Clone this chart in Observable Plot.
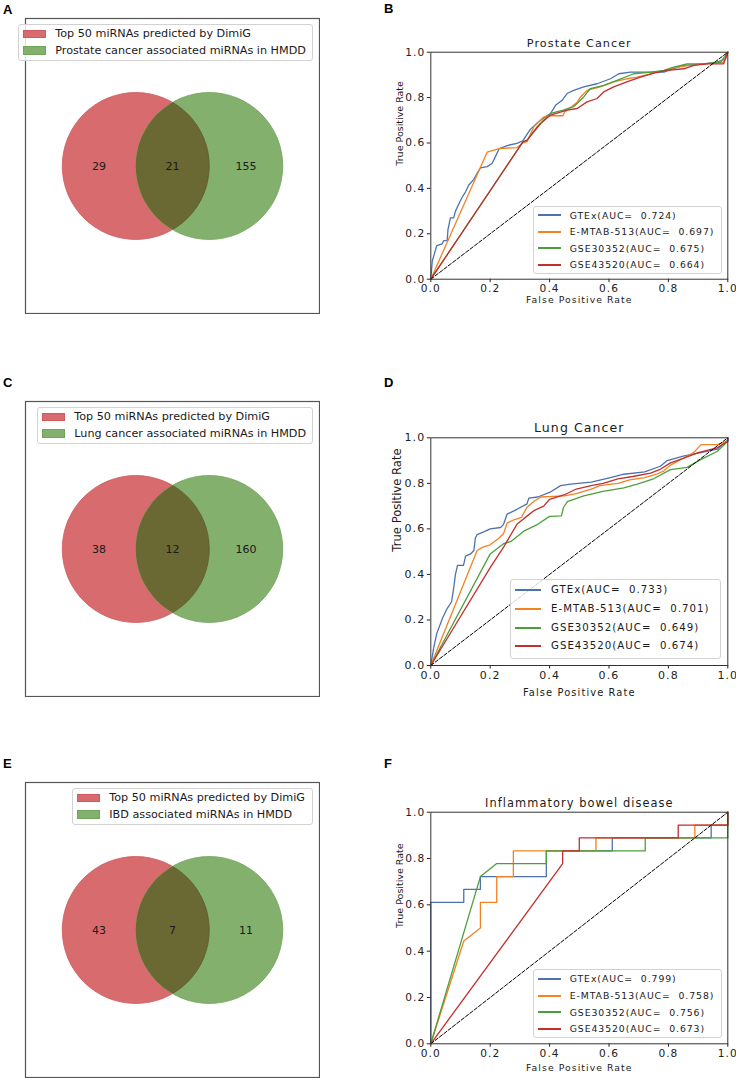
<!DOCTYPE html>
<html>
<head>
<meta charset="utf-8">
<script src="https://cdn.jsdelivr.net/npm/d3@7"></script>
<script src="https://cdn.jsdelivr.net/npm/@observablehq/plot@0.6"></script>
<style>
html,body{margin:0;padding:0;background:#fff;}
#fig{position:relative;width:736px;height:1078px;overflow:hidden;background:#fff;font-family:"DejaVu Sans",sans-serif;color:#1a1a1a;}
#fig svg{position:absolute;max-width:none;}
.plabel{position:absolute;font-family:"Liberation Sans",Arial,sans-serif;font-weight:bold;font-size:13px;line-height:13px;color:#000;}
.leg{position:absolute;box-sizing:border-box;background:rgba(255,255,255,0.8);border:1px solid #d2d2d2;border-radius:3px;}
.leg .sw{position:absolute;box-sizing:border-box;}
.leg .tx{position:absolute;white-space:pre;color:#1a1a1a;}
</style>
</head>
<body>
<div id="fig"></div>
<script>
// ---------------- data ----------------
const panelLetters = ["A", "B", "C", "D", "E", "F"];
const predictedLabel = "Top 50 miRNAs predicted by DimiG";
const hmddLabels = [
  "Prostate cancer associated miRNAs in HMDD",
  "Lung cancer associated miRNAs in HMDD",
  "IBD associated miRNAs in HMDD"
];
const onlyPredicted = [29, 38, 43];
const sharedCounts = [21, 12, 7];
const onlyHmdd = [155, 160, 11];

const rocTitles = ["Prostate Cancer", "Lung Cancer", "Inflammatory bowel disease"];
const datasets = ["GTEx", "E-MTAB-513", "GSE30352", "GSE43520"];
const aucProstate = [0.724, 0.697, 0.675, 0.664];
const aucLung = [0.733, 0.701, 0.649, 0.674];
const aucIBD = [0.799, 0.758, 0.756, 0.673];
const axisTicks = [0, 0.2, 0.4, 0.6, 0.8, 1.0];
const chance = [0, 1];
const xAxisLabel = "False Positive Rate";
const yAxisLabel = "True Positive Rate";

// ROC curves: [false positive rate, true positive rate]
const prostateGTEx = [[0,0],[0.005,0.08],[0.02,0.148],[0.038,0.156],[0.044,0.17],[0.055,0.17],[0.058,0.22],[0.066,0.27],[0.077,0.27],[0.083,0.30],[0.094,0.33],[0.105,0.36],[0.117,0.385],[0.128,0.415],[0.145,0.44],[0.156,0.467],[0.167,0.49],[0.19,0.496],[0.206,0.51],[0.214,0.53],[0.23,0.575],[0.26,0.59],[0.29,0.598],[0.31,0.61],[0.325,0.64],[0.335,0.66],[0.36,0.69],[0.38,0.71],[0.403,0.73],[0.42,0.766],[0.442,0.788],[0.459,0.818],[0.481,0.832],[0.515,0.847],[0.56,0.861],[0.605,0.883],[0.633,0.905],[0.672,0.912],[0.785,0.912],[0.807,0.923],[0.852,0.942],[0.92,0.949],[0.964,0.956],[0.992,0.97],[1,1]];
const prostateEMTAB = [[0,0],[0.19,0.56],[0.23,0.575],[0.29,0.58],[0.31,0.60],[0.324,0.606],[0.347,0.672],[0.38,0.715],[0.40,0.72],[0.445,0.72],[0.45,0.735],[0.493,0.78],[0.504,0.803],[0.526,0.832],[0.571,0.847],[0.616,0.869],[0.66,0.883],[0.695,0.89],[0.74,0.905],[0.785,0.92],[0.83,0.934],[0.874,0.942],[0.92,0.949],[0.986,0.956],[1,1]];
const prostateGSE30352 = [[0,0],[0.31,0.605],[0.324,0.61],[0.358,0.672],[0.403,0.73],[0.446,0.745],[0.481,0.76],[0.515,0.803],[0.537,0.84],[0.582,0.854],[0.627,0.876],[0.683,0.905],[0.74,0.912],[0.785,0.92],[0.818,0.934],[0.863,0.949],[0.92,0.949],[0.976,0.956],[1,1]];
const prostateGSE43520 = [[0,0],[0.31,0.605],[0.324,0.613],[0.37,0.686],[0.403,0.723],[0.459,0.745],[0.493,0.752],[0.526,0.781],[0.56,0.796],[0.582,0.825],[0.616,0.847],[0.66,0.869],[0.706,0.89],[0.751,0.908],[0.796,0.92],[0.852,0.927],[0.886,0.942],[0.93,0.949],[0.986,0.949],[1,1]];

const lungGTEx = [[0,0],[0.01,0.08],[0.02,0.14],[0.04,0.21],[0.055,0.25],[0.07,0.28],[0.077,0.34],[0.083,0.40],[0.09,0.44],[0.11,0.44],[0.117,0.48],[0.134,0.49],[0.145,0.505],[0.15,0.56],[0.156,0.575],[0.184,0.59],[0.2,0.60],[0.235,0.606],[0.245,0.62],[0.257,0.665],[0.29,0.686],[0.324,0.71],[0.33,0.735],[0.36,0.74],[0.40,0.76],[0.437,0.79],[0.47,0.797],[0.54,0.805],[0.605,0.825],[0.65,0.84],[0.72,0.85],[0.773,0.875],[0.796,0.90],[0.85,0.92],[0.91,0.935],[0.964,0.95],[1,0.99],[1,1]];
const lungEMTAB = [[0,0],[0.156,0.505],[0.175,0.52],[0.2,0.53],[0.23,0.56],[0.245,0.58],[0.257,0.625],[0.28,0.64],[0.305,0.65],[0.324,0.695],[0.347,0.72],[0.37,0.74],[0.45,0.745],[0.49,0.755],[0.54,0.775],[0.57,0.79],[0.63,0.80],[0.67,0.815],[0.72,0.825],[0.76,0.84],[0.785,0.855],[0.807,0.88],[0.85,0.91],[0.885,0.935],[0.91,0.97],[0.964,0.97],[1,0.985],[1,1]];
const lungGSE30352 = [[0,0],[0.2,0.49],[0.245,0.535],[0.27,0.545],[0.313,0.59],[0.36,0.62],[0.40,0.655],[0.44,0.657],[0.447,0.695],[0.46,0.72],[0.515,0.745],[0.58,0.765],[0.65,0.78],[0.695,0.797],[0.75,0.82],[0.807,0.86],[0.863,0.87],[0.91,0.905],[0.964,0.94],[1,0.985],[1,1]];
const lungGSE43520 = [[0,0],[0.2,0.43],[0.245,0.52],[0.29,0.62],[0.313,0.645],[0.347,0.68],[0.38,0.70],[0.40,0.73],[0.45,0.75],[0.49,0.775],[0.54,0.79],[0.58,0.80],[0.63,0.82],[0.68,0.83],[0.74,0.845],[0.77,0.86],[0.807,0.89],[0.85,0.91],[0.9,0.935],[0.964,0.956],[1,0.985],[1,1]];

const ibdGTEx = [[0,0],[0,0.611],[0.111,0.611],[0.111,0.667],[0.167,0.667],[0.167,0.722],[0.389,0.722],[0.389,0.833],[0.611,0.833],[0.611,0.889],[0.944,0.889],[0.944,0.944],[1,0.944],[1,1]];
const ibdEMTAB = [[0,0],[0.111,0.444],[0.167,0.5],[0.167,0.611],[0.222,0.611],[0.222,0.722],[0.278,0.722],[0.278,0.833],[0.556,0.833],[0.556,0.889],[0.889,0.889],[0.889,0.944],[1,0.944],[1,1]];
const ibdGSE30352 = [[0,0],[0.167,0.722],[0.222,0.778],[0.389,0.778],[0.389,0.833],[0.722,0.833],[0.722,0.889],[1,0.889],[1,1]];
const ibdGSE43520 = [[0,0],[0.444,0.778],[0.444,0.833],[0.5,0.833],[0.5,0.889],[0.833,0.889],[0.833,0.944],[1,0.944],[1,1]];

// ---------------- styles ----------------
const seriesColors = ["#4c72b0", "#f28222", "#4ca03c", "#c22f2f"];
const RED_FILL = "#d76b6e", RED_EDGE = "#cc5a5e";
const GREEN_FILL = "#83b06d", GREEN_EDGE = "#72a35b";
const OVERLAP_FILL = "#6a6833", OVERLAP_EDGE = "#5f5a2e";

const fig = document.getElementById("fig");
const NS = "http://www.w3.org/2000/svg";

function place(el, left, top) {
  el.style.left = left + "px";
  el.style.top = top + "px";
  fig.appendChild(el);
}

function addLegend(cfg) {
  const box = document.createElement("div");
  box.className = "leg";
  box.style.left = Math.round(cfg.left) + "px";
  box.style.top = Math.round(cfg.top) + "px";
  box.style.width = Math.round(cfg.width) + "px";
  box.style.height = Math.round(cfg.height) + "px";
  cfg.items.forEach((it, i) => {
    const cy = cfg.row0 + i * cfg.rowStep;
    const sw = document.createElement("div");
    sw.className = "sw";
    sw.style.left = cfg.swLeft + "px";
    sw.style.width = cfg.swWidth + "px";
    if (cfg.kind === "patch") {
      sw.style.top = (cy - cfg.swHeight / 2) + "px";
      sw.style.height = cfg.swHeight + "px";
      sw.style.background = it.fill;
      sw.style.border = "0.8px solid " + it.edge;
    } else {
      sw.style.top = Math.round(cy - 1) + "px";
      sw.style.height = cfg.lineWidth + "px";
      sw.style.background = it.fill;
    }
    box.appendChild(sw);
    const tx = document.createElement("div");
    tx.className = "tx";
    tx.textContent = it.label;
    tx.style.left = cfg.textLeft + "px";
    tx.style.fontSize = cfg.fontSize + "px";
    tx.style.lineHeight = cfg.fontSize + "px";
    tx.style.top = (cy - cfg.fontSize / 2) + "px";
    tx.style.letterSpacing = cfg.letterSpacing || "0";
    box.appendChild(tx);
  });
  fig.appendChild(box);
}

// ---------------- Venn panels ----------------
const vennTops = [18, 401, 782];
const vennLegends = [
  {left: 17.7, width: 295.3},
  {left: 36.7, width: 276.3},
  {left: 71.7, width: 241.3}
];

for (let i = 0; i < 3; i++) {
  const W = 296, H = 297;
  const innerW = W - 2;
  const circles = [{x: -0.5, y: 0}, {x: 0.5, y: 0}];
  const regions = [
    {x: -1, y: 0, n: onlyPredicted[i]},
    {x: 0, y: 0, n: sharedCounts[i]},
    {x: 1, y: 0, n: onlyHmdd[i]}
  ];
  const rpx = innerW / 4;
  const svg = Plot.plot({
    width: W, height: H, margin: 1,
    x: {domain: [-2, 2], axis: null},
    y: {domain: [-2, 2], axis: null},
    style: {fontFamily: "DejaVu Sans", fontSize: "11px", background: "transparent", color: "#1a1a1a"},
    marks: [
      Plot.dot([circles[0]], {x: "x", y: "y", r: rpx, fill: RED_FILL, stroke: RED_EDGE, strokeWidth: 0.8}),
      Plot.dot([circles[1]], {x: "x", y: "y", r: rpx, fill: GREEN_FILL, stroke: GREEN_EDGE, strokeWidth: 0.8}),
      Plot.dot([circles[0]], {x: "x", y: "y", r: rpx, fill: OVERLAP_FILL, stroke: OVERLAP_EDGE, strokeWidth: 0.8}),
      Plot.text(regions, {x: "x", y: "y", text: d => String(d.n), fontSize: 11, fill: "#1a1a1a"}),
      Plot.frame({stroke: "#555", strokeWidth: 1.2})
    ]
  });
  // clip the third (overlap) circle to the green circle -> lens shape
  const dotGroups = svg.querySelectorAll('g[aria-label="dot"]');
  if (dotGroups.length >= 3) {
    const greenCircle = dotGroups[1].querySelector("circle, path");
    const ovGroup = dotGroups[2];
    if (greenCircle) {
      const defs = document.createElementNS(NS, "defs");
      const cp = document.createElementNS(NS, "clipPath");
      cp.setAttribute("id", "lens" + i);
      const clone = greenCircle.cloneNode(false);
      ["fill", "stroke", "stroke-width", "fill-opacity", "stroke-opacity"].forEach(a => clone.removeAttribute(a));
      cp.appendChild(clone);
      // keep same parent transform as the green group
      const gt = dotGroups[1].getAttribute("transform");
      const ot = ovGroup.getAttribute("transform");
      if (gt !== ot && gt) {
        const wrap = document.createElementNS(NS, "g");
        wrap.setAttribute("transform", gt);
        cp.removeChild(clone);
        wrap.appendChild(clone);
        cp.appendChild(wrap);
      }
      defs.appendChild(cp);
      svg.insertBefore(defs, svg.firstChild);
      ovGroup.setAttribute("clip-path", "url(#lens" + i + ")");
    }
  }
  place(svg, 24, vennTops[i] - 1);

  addLegend({
    kind: "patch",
    left: vennLegends[i].left, top: vennTops[i] + 6.3,
    width: vennLegends[i].width, height: 36.5,
    row0: 8.8, rowStep: 16.7,
    swLeft: 4, swWidth: 23.3, swHeight: 8.5,
    textLeft: 36.3, fontSize: 11.2,
    items: [
      {fill: RED_FILL, edge: RED_EDGE, label: predictedLabel},
      {fill: GREEN_FILL, edge: GREEN_EDGE, label: hmddLabels[i]}
    ]
  });
}

// ---------------- ROC panels ----------------
const rocCurves = [
  [prostateGTEx, prostateEMTAB, prostateGSE30352, prostateGSE43520],
  [lungGTEx, lungEMTAB, lungGSE30352, lungGSE43520],
  [ibdGTEx, ibdEMTAB, ibdGSE30352, ibdGSE43520]
];
const rocAucs = [aucProstate, aucLung, aucIBD];
const rocLayout = [
  {top: 0, height: 320, mt: 51.7, mb: 41.3, tickFs: 10.6, titleFs: 11.2, titleDy: -8.5, xlabFs: 9.3, xlabDy: 21.3, ylabFs: 9.5, ylabDx: -31,
   leg: {left: 533.3, top: 205.7, width: 189, height: 67.6, row0: 8.3, rowStep: 16.45, swLeft: 4.3, swWidth: 22.4, textLeft: 35.7, fontSize: 9.3}},
  {top: 360, height: 340, mt: 77.3, mb: 35, tickFs: 11, titleFs: 12.5, titleDy: -10, xlabFs: 9.9, xlabDy: 27, ylabFs: 11.6, ylabDx: -34,
   leg: {left: 510, top: 579, width: 210.7, height: 80, row0: 10.3, rowStep: 18.67, swLeft: 4.3, swWidth: 25.7, textLeft: 40, fontSize: 10.2}},
  {top: 720, height: 358, mt: 91.7, mb: 34.7, tickFs: 10.6, titleFs: 11.4, titleDy: -9, xlabFs: 9.3, xlabDy: 24.4, ylabFs: 9.5, ylabDx: -31,
   leg: {left: 533.3, top: 969.3, width: 189, height: 69, row0: 9, rowStep: 16.67, swLeft: 4.3, swWidth: 22.4, textLeft: 35.7, fontSize: 9.3}}
];

for (let p = 0; p < 3; p++) {
  const L = rocLayout[p];
  const marks = [];
  rocCurves[p].forEach((curve, s) => {
    marks.push(Plot.line(curve, {x: d => d[0], y: d => d[1], stroke: seriesColors[s], strokeWidth: 1.3}));
  });
  marks.push(Plot.line(chance, {x: d => d, y: d => d, stroke: "#000", strokeWidth: 1, strokeDasharray: "3.7,1.8"}));
  marks.push(Plot.frame({stroke: "#333", strokeWidth: 1}));
  marks.push(Plot.text([rocTitles[p]], {frameAnchor: "top", lineAnchor: "middle", dy: L.titleDy, text: d => d, fontSize: L.titleFs, fill: "#1a1a1a"}));
  marks.push(Plot.text([xAxisLabel], {frameAnchor: "bottom", lineAnchor: "middle", dy: L.xlabDy, text: d => d, fontSize: L.xlabFs, fill: "#1a1a1a"}));
  marks.push(Plot.text([yAxisLabel], {frameAnchor: "left", lineAnchor: "middle", dx: L.ylabDx, rotate: -90, text: d => d, fontSize: L.ylabFs, fill: "#1a1a1a"}));
  const svg = Plot.plot({
    width: 366, height: L.height,
    marginLeft: 60.3, marginRight: 8.7, marginTop: L.mt, marginBottom: L.mb,
    x: {domain: [0, 1], ticks: axisTicks, tickFormat: d3.format(".1f"), tickSize: 3.5, tickPadding: 2, label: null},
    y: {domain: [0, 1], ticks: axisTicks, tickFormat: d3.format(".1f"), tickSize: 3.5, tickPadding: 2, label: null},
    style: {fontFamily: "DejaVu Sans", fontSize: L.tickFs + "px", color: "#222", letterSpacing: "0.1em", background: "transparent", overflow: "visible"},
    marks
  });
  // the rotated y-axis label is not horizontally stretched in the reference
  const textGroups = svg.querySelectorAll('g[aria-label="text"]');
  if (textGroups.length >= 3) textGroups[2].style.letterSpacing = "0px";
  place(svg, 370, L.top);

  addLegend(Object.assign({}, L.leg, {
    kind: "line", lineWidth: 1.5, letterSpacing: "0.1em",
    items: datasets.map((name, s) => ({fill: seriesColors[s], label: name + "(AUC=  " + rocAucs[p][s].toFixed(3) + ")"}))
  }));
}

// ---------------- panel letters ----------------
const letterPos = [[3, 2.5], [384, 1.5], [3, 375.5], [384, 375.5], [3, 756.5], [384, 757]];
panelLetters.forEach((t, i) => {
  const d = document.createElement("div");
  d.className = "plabel";
  d.textContent = t;
  place(d, letterPos[i][0], letterPos[i][1]);
});
</script>
</body>
</html>
